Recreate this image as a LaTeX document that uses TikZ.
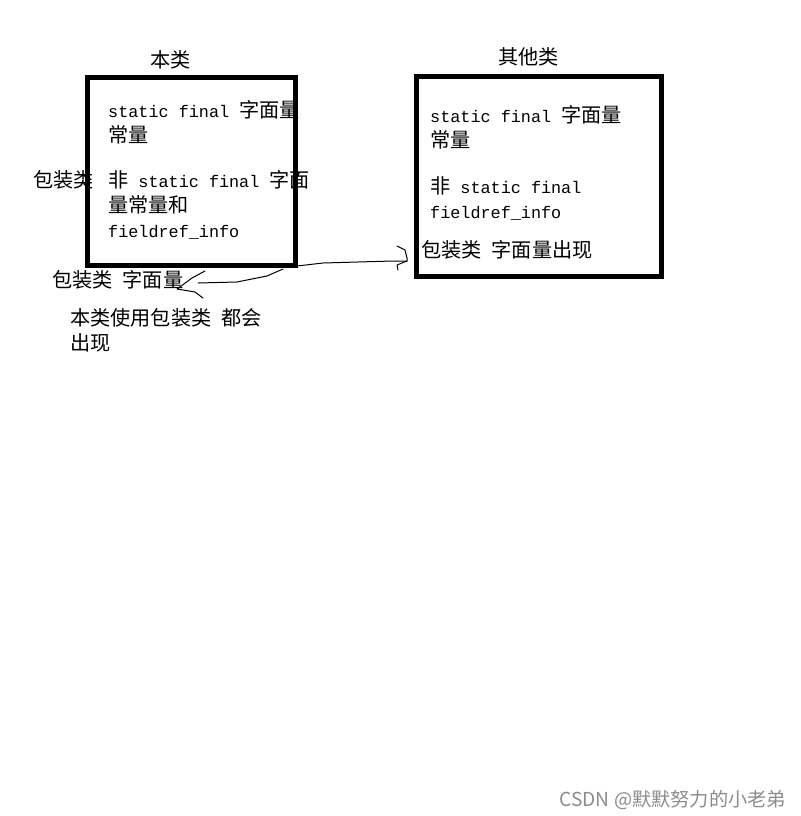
\documentclass[tikz,border=0pt]{standalone}
\usepackage{fontspec}
\setmainfont{Liberation Mono}
\newfontfamily\zhfont{Noto Sans CJK SC}[Scale=1.2]
\newcommand{\zhtxt}[1]{{\zhfont #1}}
\usetikzlibrary{positioning}
\tikzset{
  classbox/.style={draw, line width=5pt, rectangle, inner sep=0pt},
  txt/.style={anchor=base west, inner sep=0pt, font=\fontsize{16.8}{25}\selectfont},
  hand/.style={line width=1pt, line join=round, line cap=round}
}

\begin{document}
\begin{tikzpicture}[x=1pt,y=-1pt]
\useasboundingbox (0,0) rectangle (800,816);
% the two classes
\node[classbox, minimum width=208pt, minimum height=188pt] (ben) at (191,171.5) {};
\node[classbox, minimum width=245pt, minimum height=200pt] (qita) at (538.5,176) {};
\node[txt] (benname) at (150,67) {\zhtxt{本类}};
\node[txt] (qitaname) at (498,64) {\zhtxt{其他类}};

% text inside ben
\node[txt] (b1) at (108,117) {static final \zhtxt{字面量}};
\node[txt] (b2) at (108,142) {\zhtxt{常量}};
\node[txt] (b3) at (108,187) {\zhtxt{非} static final \zhtxt{字面}};
\node[txt] (b4) at (108,212) {\zhtxt{量常量和}};
\node[txt] (b5) at (108,237) {fieldref\_info};
\node[txt] (bw) at (33,187) {\zhtxt{包装类}};

% text inside qita
\node[txt] (q1) at (430,122) {static final \zhtxt{字面量}};
\node[txt] (q2) at (430,147) {\zhtxt{常量}};
\node[txt] (q3) at (430,193) {\zhtxt{非} static final};
\node[txt] (q4) at (430,218) {fieldref\_info};
\node[txt] (q5) at (421,257) {\zhtxt{包装类}\ \zhtxt{字面量出现}};

% notes under ben
\node[txt] (n1) at (52,287) {\zhtxt{包装类}\ \zhtxt{字面量}};
\node[txt] (n2) at (70,325) {\zhtxt{本类使用包装类}\ \zhtxt{都会}};
\node[txt] (n3) at (70,350) {\zhtxt{出现}};

% hand drawn arrows
\coordinate (a1s) at (297,266);
\coordinate (a1e) at (407,261);
\coordinate (a2s) at (283,269);
\coordinate (a2e) at (177,289);
\draw[hand] (a1s) -- (323,263) -- (393,261) -- (a1e);
\draw[hand] (397,246) -- (405,250) -- (407,258) -- (a1e) -- (397,265) -- (398,270);
\draw[hand] (a2s) -- (267,276) -- (237,282) -- (198,283);
\draw[hand] (205,271) -- (192,278) -- (a2e) -- (195,292) -- (203,298);

% watermark
\node[anchor=base east, inner sep=0pt, text=black!45, font=\fontsize{16}{20}\selectfont\zhfont] (mark) at (786,806) {CSDN @默默努力的小老弟};
\end{tikzpicture}
\end{document}
